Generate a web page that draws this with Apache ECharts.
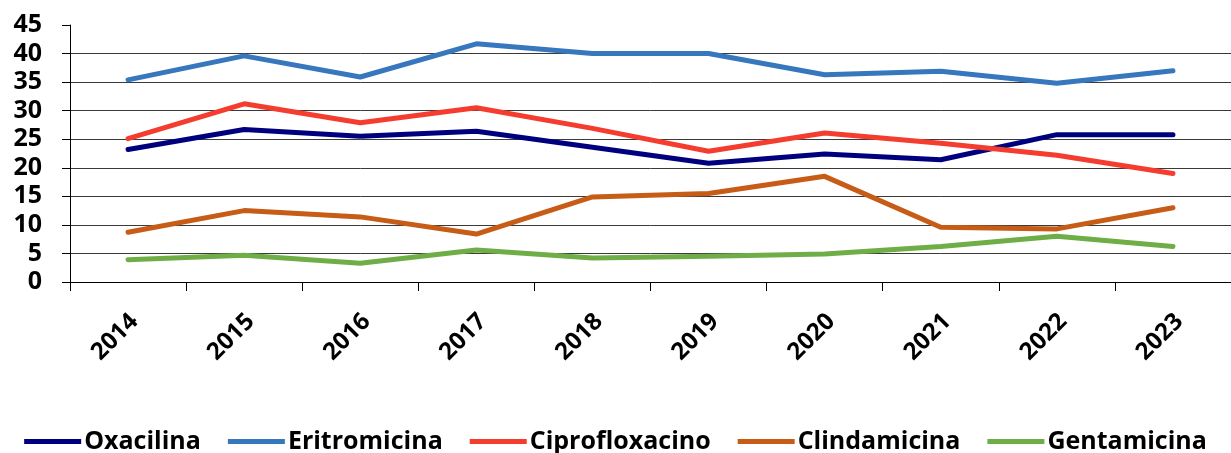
<!DOCTYPE html>
<html>
<head>
<meta charset="utf-8">
<title>Resistencia antimicrobiana 2014-2023</title>
<script src="https://cdn.jsdelivr.net/npm/echarts@6/dist/echarts.min.js"></script>
<style>
  html, body { margin: 0; padding: 0; background: #ffffff; }
  #chart { width: 1231px; height: 453px; }
</style>
</head>
<body>
<div id="chart"></div>
<script>
// Years on the horizontal axis
const years = ['2014', '2015', '2016', '2017', '2018', '2019', '2020', '2021', '2022', '2023'];

// Percentages per antibiotic
const oxacilina      = [23.2, 26.7, 25.5, 26.4, 23.6, 20.8, 22.4, 21.4, 25.8, 25.8];
const eritromicina   = [35.4, 39.6, 35.9, 41.7, 40.0, 40.0, 36.3, 36.9, 34.8, 37.0];
const ciprofloxacino = [25.1, 31.2, 27.9, 30.5, 26.9, 22.9, 26.1, 24.3, 22.2, 19.0];
const clindamicina   = [8.7, 12.5, 11.4, 8.4, 14.9, 15.5, 18.5, 9.6, 9.3, 13.0];
const gentamicina    = [3.9, 4.7, 3.3, 5.6, 4.2, 4.5, 4.9, 6.2, 8.0, 6.2];

// Value axis ticks
const yTicks = [0, 5, 10, 15, 20, 25, 30, 35, 40, 45];

const seriesDefs = [
  { name: 'Oxacilina',      data: oxacilina,      color: '#00007e' },
  { name: 'Eritromicina',   data: eritromicina,   color: '#3677bd' },
  { name: 'Ciprofloxacino', data: ciprofloxacino, color: '#f43d2f' },
  { name: 'Clindamicina',   data: clindamicina,   color: '#c65c16' },
  { name: 'Gentamicina',    data: gentamicina,    color: '#6fae47' }
];

const FONT = '"Open Sans", "DejaVu Sans", sans-serif';

const chart = echarts.init(document.getElementById('chart'), null, { renderer: 'canvas' });

chart.setOption({
  animation: false,
  backgroundColor: '#ffffff',
  grid: { left: 70, top: 25, width: 1167, height: 257, containLabel: false },
  legend: {
    top: 424,
    left: 'center',
    icon: 'rect',
    itemWidth: 57,
    itemHeight: 5,
    itemGap: 27,
    textStyle: { fontFamily: FONT, fontWeight: 'bold', fontSize: 25, color: '#000000', padding: [0, 0, 0, -2] },
    data: seriesDefs.map(s => s.name)
  },
  xAxis: {
    type: 'category',
    data: years,
    boundaryGap: true,
    axisLine: { show: true, lineStyle: { color: '#000000', width: 1 } },
    axisTick: { show: true, length: 9, inside: false, alignWithLabel: false, lineStyle: { color: '#000000' } },
    axisLabel: {
      rotate: 45,
      interval: 0,
      margin: 42,
      padding: [0, -9, 0, 0],
      fontFamily: FONT,
      fontWeight: 'bold',
      fontSize: 24,
      color: '#000000'
    },
    splitLine: { show: false }
  },
  yAxis: {
    type: 'value',
    min: yTicks[0],
    max: yTicks[yTicks.length - 1],
    interval: yTicks[1] - yTicks[0],
    axisLine: { show: true, lineStyle: { color: '#000000', width: 1 } },
    axisTick: { show: true, length: 8, lineStyle: { color: '#000000' } },
    axisLabel: {
      margin: 28,
      fontFamily: FONT,
      fontWeight: 'bold',
      fontSize: 25,
      color: '#000000'
    },
    splitLine: { show: true, showMaxLine: false, lineStyle: { color: '#3a3a3a', width: 1 } }
  },
  series: seriesDefs.map(s => ({
    name: s.name,
    type: 'line',
    data: s.data,
    showSymbol: false,
    symbol: 'none',
    smooth: false,
    color: s.color,
    lineStyle: { color: s.color, width: 5, cap: 'round', join: 'round' },
    itemStyle: { color: s.color }
  }))
});
</script>
</body>
</html>
